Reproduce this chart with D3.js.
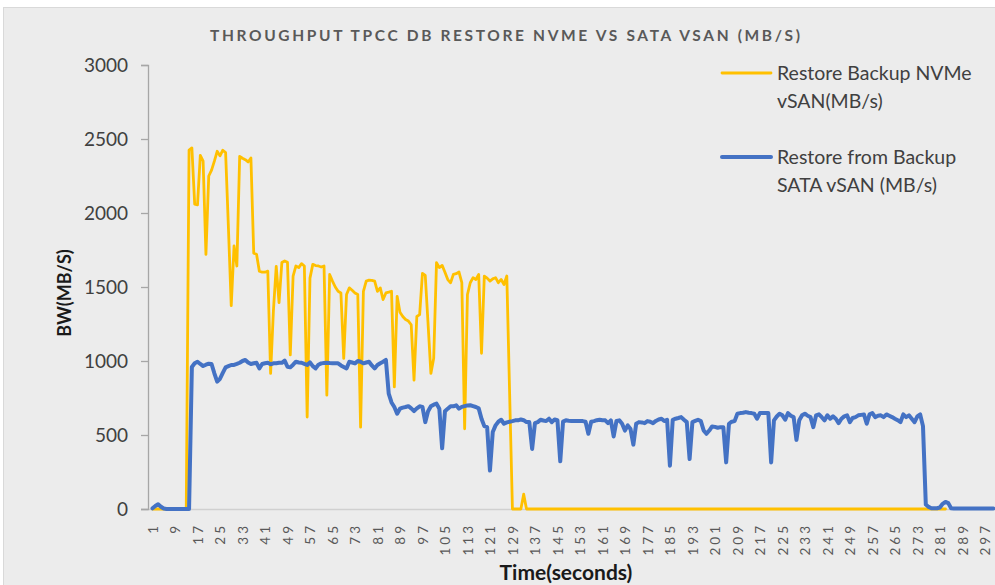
<!DOCTYPE html>
<html>
<head>
<meta charset="utf-8">
<script src="https://cdn.jsdelivr.net/npm/d3@7"></script>
<style>
  html, body { margin: 0; padding: 0; background: #ffffff; }
  svg { display: block; font-family: Lato, "Open Sans", sans-serif; }
</style>
</head>
<body>
<svg id="chart" width="995" height="585"></svg>
<script>
// ---------- DATA ----------
const chartTitle = "THROUGHPUT TPCC DB RESTORE NVME VS SATA VSAN (MB/S)";
const yAxisTitle = "BW(MB/S)";
const xAxisTitle = "Time(seconds)";
const seriesNames = ["Restore Backup NVMe vSAN(MB/s)", "Restore from Backup SATA vSAN (MB/s)"];
const legendLines = [["Restore Backup NVMe", "vSAN(MB/s)"], ["Restore from Backup", "SATA vSAN (MB/s)"]];
const yTickValues = [0, 500, 1000, 1500, 2000, 2500, 3000];
const xTickLabels = [1,9,17,25,33,41,49,57,65,73,81,89,97,105,113,121,129,137,145,153,161,169,177,185,193,201,209,217,225,233,241,249,257,265,273,281,289,297];

// NVMe series, seconds 1..283
const nvme = [
  0,0,0,0,0,0,0,0,0,0,                                  // 1-10
  0,0,0,2425,2440,2060,2055,2390,2350,1720,             // 11-20
  2250,2290,2350,2417,2386,2424,2408,1900,1374,1778,    // 21-30
  1642,2383,2370,2360,2345,2372,1728,1721,1607,1600,    // 31-40
  1600,1607,916,1340,1640,1394,1665,1676,1667,1041,     // 41-50
  1574,1642,1631,1658,1642,621,1560,1653,1645,1642,     // 51-60
  1635,1642,769,1585,1540,1500,1471,1460,1018,1449,     // 61-70
  1494,1478,1460,1449,553,1471,1540,1546,1545,1540,     // 71-80
  1470,1494,1415,1460,1465,1471,825,1437,1330,1301,     // 81-90
  1280,1270,1245,871,1301,1313,1592,1578,1250,916,      // 91-100
  1018,1665,1631,1646,1600,1550,1529,1585,1590,1601,    // 101-110
  1529,542,1449,1529,1563,1551,1585,1052,1574,1560,     // 111-120
  1540,1555,1563,1529,1551,1517,1574,780,0,0,           // 121-130
  0,0,100,0,0,0,0,0,0,0,                                // 131-140
  0,0,0,0,0,0,0,0,0,0,0,0,0,0,0,0,0,0,0,0,              // 141-160
  0,0,0,0,0,0,0,0,0,0,0,0,0,0,0,0,0,0,0,0,              // 161-180
  0,0,0,0,0,0,0,0,0,0,0,0,0,0,0,0,0,0,0,0,              // 181-200
  0,0,0,0,0,0,0,0,0,0,0,0,0,0,0,0,0,0,0,0,              // 201-220
  0,0,0,0,0,0,0,0,0,0,0,0,0,0,0,0,0,0,0,0,              // 221-240
  0,0,0,0,0,0,0,0,0,0,0,0,0,0,0,0,0,0,0,0,              // 241-260
  0,0,0,0,0,0,0,0,0,0,0,0,0,0,0,0,0,0,0,0,              // 261-280
  0,0,0                                                 // 281-283
];

// SATA series, seconds 1..300
const sata = [
  5,20,32,15,3,0,0,0,0,0,                               // 1-10
  0,0,0,0,960,985,995,980,966,975,                      // 11-20
  982,980,917,860,880,920,957,965,973,973,              // 21-30
  980,988,1000,1007,990,980,985,988,950,980,            // 31-40
  985,988,978,984,985,988,988,1002,961,957,             // 41-50
  975,995,990,988,980,973,991,965,950,975,              // 51-60
  984,986,988,986,985,984,984,970,960,950,              // 61-70
  995,990,984,1000,995,984,990,995,970,950,             // 71-80
  973,985,995,1007,780,720,689,644,678,685,             // 81-90
  689,695,680,662,680,694,690,587,660,694,              // 91-100
  705,712,678,410,660,678,694,694,701,678,              // 101-110
  690,695,700,701,695,689,680,610,560,553,              // 111-120
  260,520,565,590,603,576,585,590,594,599,              // 121-130
  599,605,600,587,587,406,580,587,603,598,              // 131-140
  594,610,587,605,600,322,590,599,596,594,              // 141-150
  594,594,594,594,590,508,590,594,600,603,              // 151-160
  600,599,580,599,490,595,599,576,530,565,              // 161-170
  540,435,576,587,585,580,594,590,580,595,              // 171-180
  605,610,594,603,293,603,610,615,621,603,              // 181-190
  587,338,587,595,603,594,531,508,530,558,              // 191-200
  555,549,553,553,315,576,590,594,644,648,              // 201-210
  650,655,650,648,644,610,648,648,648,648,              // 211-220
  315,599,625,644,633,603,648,630,621,467,              // 221-230
  600,633,644,630,621,553,633,640,620,599,              // 231-240
  633,610,626,610,580,610,626,633,587,615,              // 241-250
  621,633,636,639,576,640,648,621,630,633,              // 251-260
  621,639,630,621,610,600,587,639,621,633,              // 261-270
  610,587,626,639,560,30,14,5,5,5,                      // 271-280
  10,35,48,40,5,3,3,3,3,3,                              // 281-290
  3,3,3,3,3,3,3,3,3,3                                   // 291-300
];

const seriesColors = ["#FFC000", "#4472C4"];

// ---------- LAYOUT ----------
const svg = d3.select("#chart");
svg.append("rect").attr("x", 3.5).attr("y", 7.5).attr("width", 1000).attr("height", 600)
  .attr("fill", "#ececec").attr("stroke", "#d9d9d9").attr("stroke-width", 1);

const x = d3.scaleLinear().domain([1, 300]).range([152.5, 152.5 + 299 * 2.812]);
const y = d3.scaleLinear().domain([0, 3000]).range([509, 65]);
const axisLeftX = 148;

// title
svg.append("text").attr("x", 505).attr("y", 41).attr("text-anchor", "middle")
  .attr("font-size", 15.5).attr("font-weight", 700).attr("fill", "#595959")
  .attr("textLength", 590).attr("lengthAdjust", "spacing")
  .text(chartTitle);

// x axis baseline
svg.append("line").attr("x1", axisLeftX - 7).attr("x2", 995)
  .attr("y1", y(0) + 0.5).attr("y2", y(0) + 0.5)
  .attr("stroke", "#d0d0d0").attr("stroke-width", 1.3);

// y axis
const yAxis = d3.axisLeft(y).tickValues(yTickValues).tickSize(7).tickPadding(13).tickFormat(d3.format("d"));
const gy = svg.append("g").attr("transform", `translate(${axisLeftX},0)`).call(yAxis);
gy.select(".domain").attr("stroke", "#a6a6a6").attr("stroke-width", 1.3);
gy.selectAll(".tick line").attr("stroke", "#a6a6a6").attr("stroke-width", 1.3);
gy.selectAll(".tick text").attr("font-size", 19).attr("fill", "#404040")
  .attr("font-family", "Lato, sans-serif");

// x axis labels
const xAxis = d3.axisBottom(x).tickValues(xTickLabels).tickSize(0).tickFormat(d3.format("d"));
const gx = svg.append("g").attr("transform", `translate(0,${y(0)})`).call(xAxis);
gx.select(".domain").remove();
gx.selectAll(".tick text")
  .attr("font-size", 13.5).attr("fill", "#595959").attr("letter-spacing", "3px")
  .attr("font-family", "Lato, sans-serif")
  .attr("text-anchor", "end")
  .attr("transform", "translate(0,14) rotate(-90)")
  .attr("x", 0).attr("y", 0).attr("dy", "0.36em");

// axis titles
svg.append("text").attr("transform", "translate(71,293) rotate(-90)")
  .attr("text-anchor", "middle").attr("font-size", 18).attr("font-weight", 700)
  .attr("fill", "#1a1a1a").text(yAxisTitle);
svg.append("text").attr("x", 566).attr("y", 580).attr("text-anchor", "middle")
  .attr("font-size", 21).attr("font-weight", 700).attr("fill", "#1a1a1a").text(xAxisTitle);

// lines
const line = d3.line().x((d, i) => x(i + 1)).y(d => y(d));
svg.append("path").datum(nvme).attr("d", line).attr("fill", "none")
  .attr("stroke", seriesColors[0]).attr("stroke-width", 2.8).attr("stroke-linejoin", "round").attr("stroke-linecap", "round");
svg.append("path").datum(sata).attr("d", line).attr("fill", "none")
  .attr("stroke", seriesColors[1]).attr("stroke-width", 4).attr("stroke-linejoin", "round").attr("stroke-linecap", "round");

// legend
const legendY = [73, 157];
const legendWidths = [2.8, 4];
legendLines.forEach((lines, k) => {
  const g = svg.append("g");
  g.append("line").attr("x1", 722).attr("x2", 771).attr("y1", legendY[k]).attr("y2", legendY[k])
    .attr("stroke", seriesColors[k]).attr("stroke-width", legendWidths[k]).attr("stroke-linecap", "round");
  lines.forEach((t, j) => {
    g.append("text").attr("x", 777).attr("y", legendY[k] + j * 28).attr("dy", "0.35em")
      .attr("font-size", 19.5).attr("fill", "#404040").text(t);
  });
});
</script>
</body>
</html>
